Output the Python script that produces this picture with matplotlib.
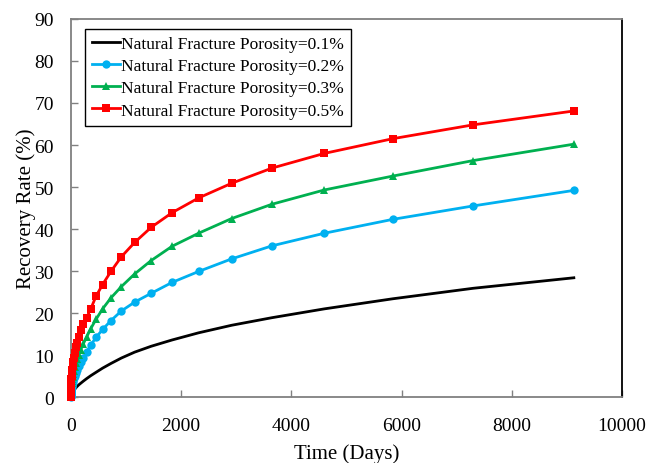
import matplotlib
matplotlib.use("Agg")
import matplotlib.pyplot as plt

plt.rcParams['font.family'] = ['Liberation Serif', 'DejaVu Serif']

days = [0, 0.36, 0.46, 0.58, 0.73, 0.9, 1.2, 1.5, 1.8, 2.3, 2.9, 3.6, 4.6, 5.8, 7.3, 9.1,
        11.5, 14.6, 18, 23, 29, 36, 46, 58, 73, 91, 115, 146, 183, 230, 290, 365,
        460, 580, 730, 920, 1160, 1460, 1840, 2320, 2920, 3650, 4600, 5840, 7300, 9125]

phi_01 = [0, 0.08, 0.09, 0.1, 0.11, 0.13, 0.15, 0.17, 0.2, 0.23, 0.26, 0.3, 0.35, 0.4, 0.45, 0.52,
          0.6, 0.7, 0.8, 0.9, 1.05, 1.2, 1.4, 1.6, 1.85, 2.15, 2.5, 2.9, 3.3, 3.8, 4.4, 5.1,
          5.9, 6.9, 8.0, 9.3, 10.7, 12.1, 13.6, 15.3, 17.1, 18.9, 21.0, 23.4, 25.9, 28.4]

phi_02 = [0, 0.3, 0.35, 0.4, 0.45, 0.5, 0.58, 0.65, 0.75, 0.85, 0.95, 1.05, 1.2, 1.35, 1.5, 1.7,
          1.95, 2.2, 2.5, 2.8, 3.1, 3.5, 4.0, 4.5, 5.1, 5.8, 6.5, 7.3, 8.3, 9.4, 10.8, 12.4,
          14.2, 16.1, 18.2, 20.5, 22.6, 24.7, 27.3, 29.9, 32.9, 36.0, 39.0, 42.3, 45.5, 49.2]

phi_03 = [0, 0.42, 0.48, 0.55, 0.6, 0.7, 0.8, 0.9, 1.0, 1.15, 1.3, 1.45, 1.65, 1.85, 2.1, 2.4,
          2.7, 3.0, 3.4, 3.9, 4.4, 4.9, 5.6, 6.3, 7.1, 8.0, 9.0, 10.1, 11.3, 12.7, 14.3, 16.3,
          18.5, 21.0, 23.6, 26.3, 29.3, 32.5, 35.9, 39.0, 42.5, 45.9, 49.3, 52.6, 56.3, 60.2]

phi_05 = [0, 0.48, 0.55, 0.65, 0.75, 0.85, 1.0, 1.1, 1.3, 1.5, 1.7, 2.0, 2.3, 2.6, 3.0, 3.4,
          3.9, 4.4, 5.0, 5.7, 6.5, 7.3, 8.3, 9.4, 10.6, 11.9, 12.9, 14.2, 16.0, 17.3, 18.9, 21.0,
          24.0, 26.8, 29.9, 33.4, 36.8, 40.4, 43.9, 47.4, 50.9, 54.5, 58.0, 61.5, 64.8, 68.1]

labels = ['Natural Fracture Porosity=0.1%', 'Natural Fracture Porosity=0.2%',
          'Natural Fracture Porosity=0.3%', 'Natural Fracture Porosity=0.5%']
colors = ['#000000', '#00B0F0', '#00B050', '#FF0000']
markers = [None, 'o', '^', 's']

x_ticks = [0, 2000, 4000, 6000, 8000, 10000]
y_ticks = [0, 10, 20, 30, 40, 50, 60, 70, 80, 90]

fig = plt.figure(figsize=(6.48, 4.64), dpi=100)
ax = fig.add_axes([0.109, 0.142, 0.851, 0.815])

series = [phi_01, phi_02, phi_03, phi_05]
for vals, lab, col, mk in zip(series, labels, colors, markers):
    ax.plot(days, vals, color=col, lw=2.0, marker=mk, markersize=6,
            markeredgewidth=0, label=lab, clip_on=False, zorder=3)

ax.set_xlim(0, 10000)
ax.set_ylim(0, 90)
ax.set_xticks(x_ticks)
ax.set_yticks(y_ticks)
ax.tick_params(axis='both', direction='in', color='#808080', length=5, width=1,
               labelsize=14)
ax.tick_params(axis='y', pad=12)
ax.tick_params(axis='x', pad=14)

for side in ['left', 'bottom', 'top']:
    ax.spines[side].set_color('#808080')
    ax.spines[side].set_linewidth(1.3)
ax.spines['right'].set_color('black')
ax.spines['right'].set_linewidth(1.3)

ax.set_xlabel('Time (Days)', fontsize=15, labelpad=7)
ax.set_ylabel('Recovery Rate (%)', fontsize=15, labelpad=-1)

leg = ax.legend(loc='upper left', bbox_to_anchor=(0.026, 0.974), borderaxespad=0,
                fontsize=12.5, handlelength=1.6, handletextpad=0.1, labelspacing=0.35,
                fancybox=False, framealpha=1, edgecolor='black', borderpad=0.4)
leg.get_frame().set_linewidth(1.0)

fig.savefig('out.png', dpi=100)
